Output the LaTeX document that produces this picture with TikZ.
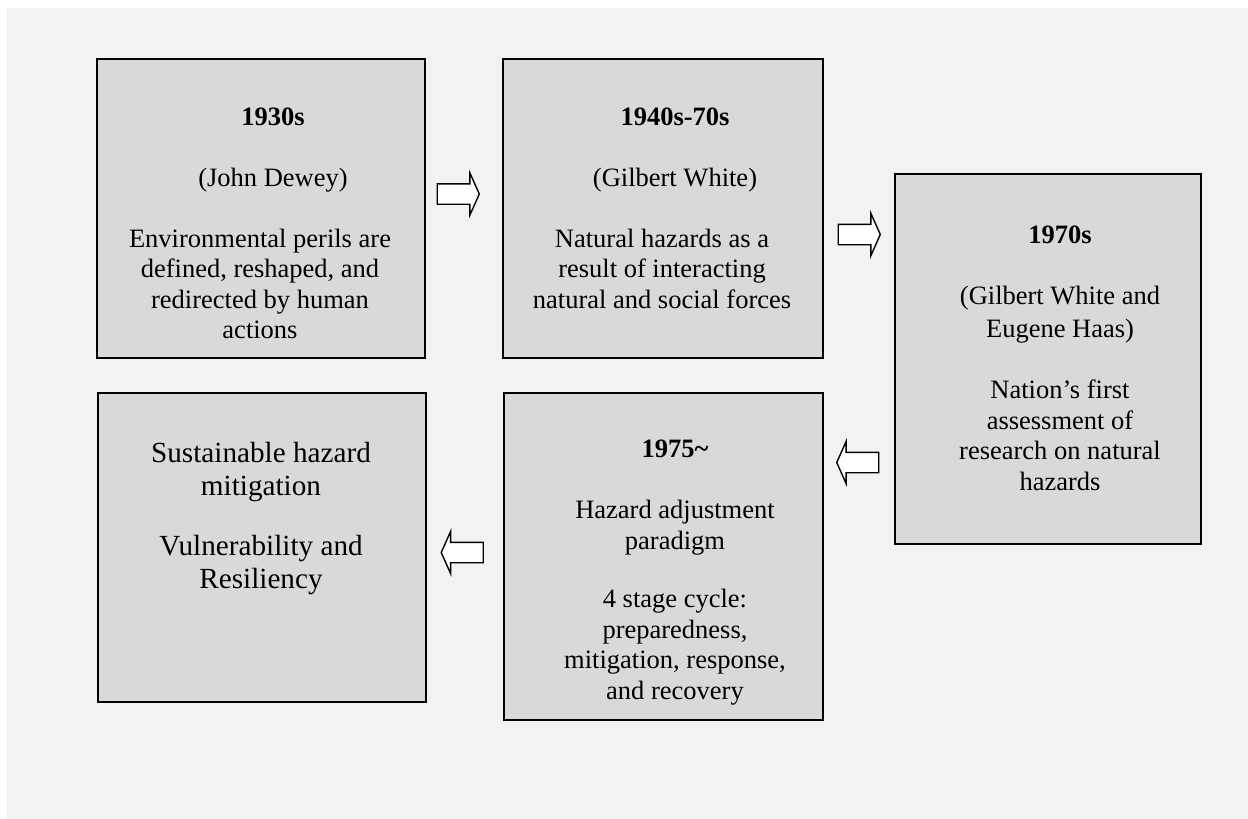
\documentclass[tikz,border=0pt]{standalone}
\usepackage{fontspec}
\setmainfont{Liberation Serif}
\usetikzlibrary{shapes.arrows}
\definecolor{pagebg}{HTML}{F2F2F2}
\definecolor{boxfill}{HTML}{D9D9D9}
\begin{document}
\begin{tikzpicture}[x=1pt,y=-1pt,
  era/.style={draw=black, line width=1.6pt, fill=boxfill, anchor=north west, inner sep=0pt},
  % text blocks are placed by the baseline of their last line
  note/.style={align=center, anchor=base, inner sep=0pt, font=\fontsize{26.5}{30.5}\selectfont},
  bignote/.style={note, font=\fontsize{29.2}{33}\selectfont},
  flow/.style={shape=single arrow, draw=black, line width=1.4pt, fill=white,
    inner xsep=0pt, inner ysep=9.5pt, minimum height=42pt,
    single arrow head extend=11pt, single arrow tip angle=132},
  flowback/.style={flow, shape border rotate=180}
]
% page and panel background
\useasboundingbox (0,0) rectangle (1248,819);
\fill[white] (0,0) rectangle (1248,819);
\fill[pagebg] (7,8) rectangle (1248,819);

% era boxes
\node[era, minimum width=328pt, minimum height=299pt] (b1) at (96,58) {};
\node[era, minimum width=320pt, minimum height=299pt] (b2) at (502,58) {};
\node[era, minimum width=306pt, minimum height=370pt] (b3) at (894,173) {};
\node[era, minimum width=319pt, minimum height=327pt] (b4) at (503,392) {};
\node[era, minimum width=328pt, minimum height=309pt] (b5) at (97,392) {};

% box texts
\node[note] (t1) at (260,338.5) {\hspace*{26pt}\textbf{1930s}\\[30.5pt]
  \hspace*{26pt}(John Dewey)\\[30.5pt]
  Environmental perils are\\ defined, reshaped, and\\ redirected by human\\ actions};
\node[note] (t2) at (662,308) {\hspace*{26pt}\textbf{1940s-70s}\\[30.5pt]
  \hspace*{26pt}(Gilbert White)\\[30.5pt]
  Natural hazards as a\\ result of interacting\\ natural and social forces};
\node[note] (t3) at (1060,490) {\textbf{1970s}\\[31pt]
  (Gilbert White and\\[2pt] Eugene Haas)\\[31pt]
  Nation’s first\\ assessment of\\ research on natural\\ hazards};
\node[note] (t4) at (675,699) {\textbf{1975\char`\~}\\[31pt]
  Hazard adjustment\\ paradigm\\[28pt]
  4 stage cycle:\\ preparedness,\\ mitigation, response,\\ and recovery};
\node[bignote] (t5) at (261,588) {Sustainable hazard\\ mitigation\\[27pt]
  Vulnerability and\\ Resiliency};

% flow arrows
\node[flow] (a1) at (456,194) {};
\node[flow] (a2) at (857,234.5) {};
\node[flowback] (a3) at (860,462.5) {};
\node[flowback] (a4) at (464.5,552.5) {};
\end{tikzpicture}
\end{document}
